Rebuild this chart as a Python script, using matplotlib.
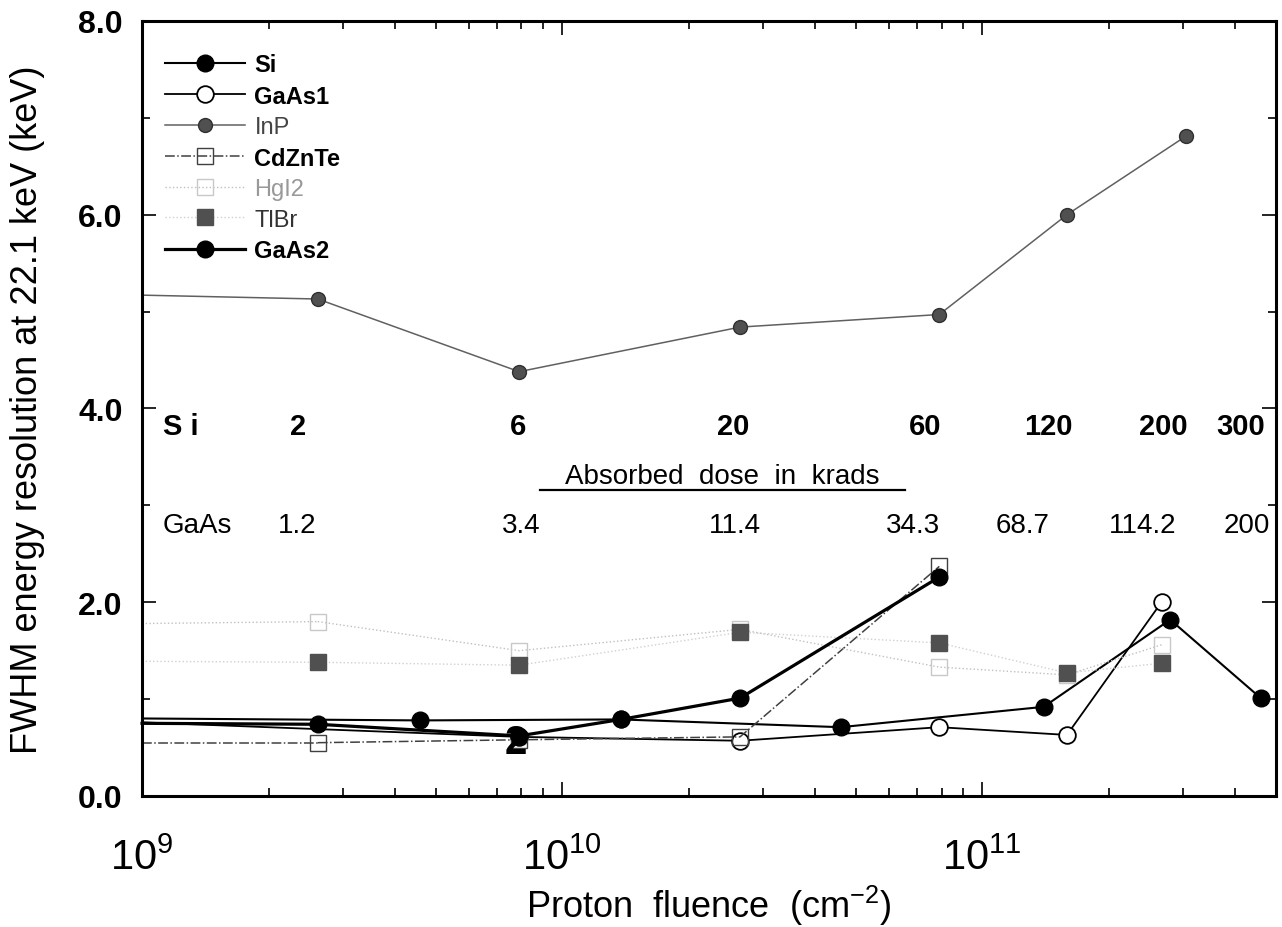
import matplotlib
matplotlib.use("Agg")
import matplotlib.pyplot as plt
from matplotlib.ticker import LogLocator, MultipleLocator, FormatStrFormatter, NullFormatter

plt.rcParams['font.family'] = ['Liberation Sans', 'DejaVu Sans']
plt.rcParams['mathtext.fontset'] = 'custom'
plt.rcParams['mathtext.rm'] = 'Liberation Sans'

# ---- data (fluence in cm^-2, FWHM in keV); *_edge = value where the curve enters at 1e9
si_x = [4.6e9, 1.38e10, 4.6e10, 1.4e11, 2.8e11, 4.6e11]
si_y = [0.78, 0.79, 0.71, 0.92, 1.82, 1.01]
si_edge = 0.80

gaas1_x = [7.9e9, 2.65e10, 7.9e10, 1.59e11, 2.67e11]
gaas1_y = [0.61, 0.57, 0.71, 0.63, 2.00]
gaas1_edge = 0.76

inp_x = [2.62e9, 7.9e9, 2.65e10, 7.9e10, 1.59e11, 3.05e11]
inp_y = [5.13, 4.38, 4.84, 4.97, 6.00, 6.81]
inp_edge = 5.17

cdznte_x = [2.62e9, 7.9e9, 2.65e10, 7.9e10]
cdznte_y = [0.55, 0.58, 0.61, 2.37]
cdznte_edge = 0.55

hgi2_x = [2.62e9, 7.9e9, 2.65e10, 7.9e10, 1.59e11, 2.67e11]
hgi2_y = [1.80, 1.50, 1.72, 1.33, 1.25, 1.56]
hgi2_edge = 1.78

tlbr_x = [2.62e9, 7.9e9, 2.65e10, 7.9e10, 1.59e11, 2.67e11]
tlbr_y = [1.38, 1.35, 1.69, 1.58, 1.27, 1.37]
tlbr_edge = 1.39

gaas2_x = [2.62e9, 7.9e9, 1.38e10, 2.65e10, 7.9e10]
gaas2_y = [0.74, 0.62, 0.79, 1.01, 2.26]
gaas2_edge = 0.75

# absorbed-dose annotations
si_dose = ['2', '6', '20', '60', '120', '200', '300']
si_dose_x = [2.35e9, 7.86e9, 2.55e10, 7.31e10, 1.44e11, 2.70e11, 4.11e11]
gaas_dose = ['1.2', '3.4', '11.4', '34.3', '68.7', '114.2', '200']
gaas_dose_x = [2.34e9, 7.98e9, 2.58e10, 6.82e10, 1.25e11, 2.41e11, 4.25e11]

fig = plt.figure(figsize=(12.82, 9.28), dpi=100)
ax = fig.add_axes([0.1108, 0.1412, 0.8845, 0.8351])
ax.set_xscale('log')

def series(x, y, edge, label, **kw):
    lw = kw.get('lw', 1)
    ax.plot([1e9, x[0]], [edge, y[0]], color=kw.get('color', 'k'),
            ls=kw.get('ls', '-'), lw=lw, clip_on=False)
    return ax.plot(x, y, label=label, **kw)[0]

h_si = series(si_x, si_y, si_edge, 'Si', color='k', lw=1.5, marker='o', ms=12,
              mfc='k', mec='k')
h_g1 = series(gaas1_x, gaas1_y, gaas1_edge, 'GaAs1', color='k', lw=1.3, marker='o',
              ms=12, mfc='white', mec='k', mew=1.3)
h_inp = series(inp_x, inp_y, inp_edge, 'InP', color='#606060', lw=1.1, marker='o',
               ms=10, mfc='#505050', mec='#303030')
h_cd = series(cdznte_x, cdznte_y, cdznte_edge, 'CdZnTe', color='#404040', lw=1.1,
              ls='-.', marker='s', ms=11, mfc='none', mec='#404040', mew=1.0)
h_hg = series(hgi2_x, hgi2_y, hgi2_edge, 'HgI2', color='#c0c0c0', lw=1.0, ls=':',
              marker='s', ms=11, mfc='none', mec='#c8c8c8', mew=1.0)
h_tl = series(tlbr_x, tlbr_y, tlbr_edge, 'TlBr', color='#d0d0d0', lw=1.0, ls=':',
              marker='s', ms=11, mfc='#505050', mec='#505050')
h_g2 = series(gaas2_x, gaas2_y, gaas2_edge, 'GaAs2', color='k', lw=2.3, marker='o',
              ms=12, mfc='k', mec='k')

ax.text(7.75e9, 0.56, '2', fontsize=29, fontweight='bold', ha='center', va='center',
        color='k', zorder=6)

# axes
ax.set_xlim(1e9, 5e11)
ax.set_ylim(0, 8)
ax.yaxis.set_major_locator(MultipleLocator(2))
ax.yaxis.set_minor_locator(MultipleLocator(1))
ax.yaxis.set_major_formatter(FormatStrFormatter('%.1f'))
ax.xaxis.set_major_locator(LogLocator(base=10))
ax.xaxis.set_minor_locator(LogLocator(base=10, subs=range(2, 10)))
ax.xaxis.set_minor_formatter(NullFormatter())
ax.tick_params(which='both', direction='in', top=True, right=True, width=1.2)
ax.tick_params(which='major', length=10)
ax.tick_params(which='minor', length=6)
ax.tick_params(axis='y', labelsize=23, pad=14)
ax.tick_params(axis='x', labelsize=30, pad=30)
for lab in ax.get_yticklabels():
    lab.set_fontweight('bold')
for s in ax.spines.values():
    s.set_linewidth(2.2)

ax.set_xlabel('Proton  fluence  (cm$^{-2}$)', fontsize=26)
ax.xaxis.set_label_coords(0.5, -0.112)
ax.set_ylabel('FWHM energy resolution at 22.1 keV (keV)', fontsize=26)
ax.yaxis.set_label_coords(-0.086, 0.5)

# dose annotations
ax.text(1.12e9, 3.82, 'S i', fontsize=21, fontweight='bold', va='center', ha='left')
for t, x in zip(si_dose, si_dose_x):
    ax.text(x, 3.82, t, fontsize=21, fontweight='bold', ha='center', va='center')
ax.text(1.12e9, 2.80, 'GaAs', fontsize=20, va='center', ha='left')
for t, x in zip(gaas_dose, gaas_dose_x):
    ax.text(x, 2.80, t, fontsize=20, ha='center', va='center', clip_on=False)
ax.text(2.4e10, 3.30, 'Absorbed  dose  in  krads', fontsize=20, ha='center', va='center')
ax.plot([0.351, 0.673], [0.395, 0.395], color='k', lw=1.6, transform=ax.transAxes)

# legend
leg = ax.legend(handles=[h_si, h_g1, h_inp, h_cd, h_hg, h_tl, h_g2], loc='upper left',
                bbox_to_anchor=(-0.005, 0.995), frameon=False, fontsize=17,
                handlelength=3.4, labelspacing=0.36, handletextpad=0.4,
                borderaxespad=0.8)
styles = [('k', 'bold'), ('k', 'bold'), ('#444444', 'normal'), ('k', 'bold'),
          ('#999999', 'normal'), ('#333333', 'normal'), ('k', 'bold')]
for txt, (c, w) in zip(leg.get_texts(), styles):
    txt.set_color(c)
    txt.set_fontweight(w)

fig.savefig('out.png', dpi=100)
